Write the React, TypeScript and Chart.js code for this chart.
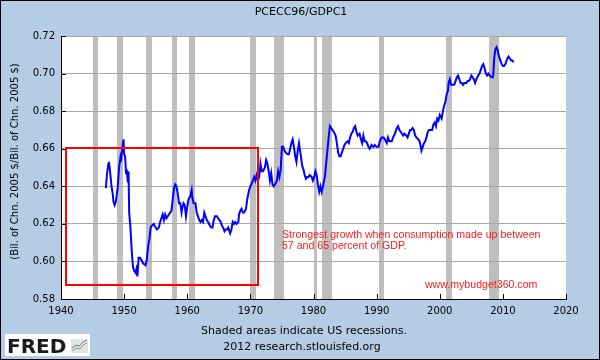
import React, { useEffect, useRef } from "react";
import { Chart, registerables } from "chart.js";

Chart.register(...registerables);

// ---- data ----
const obsYears = [
  1947.1, 1947.3, 1947.5, 1947.6, 1947.8, 1948.0, 1948.2, 1948.3, 1948.5, 1948.7,
  1949.0, 1949.2, 1949.4, 1949.5, 1949.7, 1949.9, 1950.0, 1950.15, 1950.3, 1950.4,
  1950.6, 1950.7, 1950.8, 1951.0, 1951.2, 1951.4, 1951.6, 1951.8, 1951.95, 1952.1,
  1952.3, 1952.5, 1952.7, 1953.0, 1953.4, 1953.6, 1953.8, 1954.0, 1954.2, 1954.4,
  1954.7, 1955.0, 1955.2, 1955.5, 1955.7, 1955.9, 1956.1, 1956.3, 1956.5, 1956.7,
  1956.9, 1957.1, 1957.3, 1957.5, 1957.7, 1957.9, 1958.1, 1958.3, 1958.5, 1958.7,
  1958.9, 1959.1, 1959.2, 1959.4, 1959.6, 1959.8, 1960.0, 1960.2, 1960.5, 1960.7,
  1960.8, 1961.0, 1961.3, 1961.5, 1961.7, 1961.9, 1962.1, 1962.3, 1962.5, 1962.7,
  1962.9, 1963.1, 1963.3, 1963.6, 1963.8, 1964.0, 1964.2, 1964.4, 1964.7, 1964.9,
  1965.1, 1965.3, 1965.5, 1965.7, 1965.9, 1966.1, 1966.3, 1966.5, 1966.8, 1967.0,
  1967.2, 1967.4, 1967.6, 1967.8, 1968.1, 1968.2, 1968.4, 1968.6, 1968.8, 1969.0,
  1969.3, 1969.5, 1969.8, 1970.0, 1970.4, 1970.6, 1970.8, 1971.0, 1971.2, 1971.4,
  1971.6, 1971.8, 1972.0, 1972.3, 1972.5, 1972.7, 1972.9, 1973.1, 1973.3, 1973.5,
  1973.7, 1973.9, 1974.2, 1974.4, 1974.6, 1974.8, 1975.0, 1975.2, 1975.4, 1975.6,
  1975.9, 1976.1, 1976.3, 1976.5, 1976.7, 1976.9, 1977.1, 1977.3, 1977.5, 1977.7,
  1978.0, 1978.2, 1978.4, 1978.6, 1978.8, 1979.0, 1979.2, 1979.4, 1979.7, 1979.9,
  1980.1, 1980.3, 1980.5, 1980.7, 1980.9, 1981.1, 1981.3, 1981.5, 1981.8, 1982.0,
  1982.2, 1982.4, 1982.6, 1982.8, 1983.0, 1983.2, 1983.5, 1983.7, 1983.9, 1984.1,
  1984.3, 1984.5, 1984.7, 1984.9, 1985.1, 1985.4, 1985.6, 1985.8, 1986.0, 1986.2,
  1986.4, 1986.6, 1986.8, 1987.0, 1987.3, 1987.5, 1987.7, 1987.9, 1988.1, 1988.3,
  1988.5, 1988.7, 1988.9, 1989.2, 1989.5, 1989.7, 1990.0, 1990.3, 1990.5, 1990.8,
  1991.1, 1991.3, 1991.6, 1991.8, 1992.0, 1992.2, 1992.4, 1992.6, 1992.9, 1993.2,
  1993.4, 1993.6, 1993.8, 1994.0, 1994.2, 1994.4, 1994.7, 1994.9, 1995.1, 1995.3,
  1995.5, 1995.7, 1995.9, 1996.1, 1996.3, 1996.6, 1996.8, 1997.0, 1997.1, 1997.3,
  1997.5, 1997.7, 1997.9, 1998.1, 1998.3, 1998.6, 1998.8, 1999.0, 1999.2, 1999.4,
  1999.6, 1999.8, 2000.0, 2000.3, 2000.5, 2000.7, 2000.9, 2001.1, 2001.3, 2001.4,
  2001.6, 2001.8, 2002.0, 2002.3, 2002.5, 2002.7, 2002.9, 2003.1, 2003.3, 2003.5,
  2003.7, 2003.9, 2004.2, 2004.4, 2004.6, 2004.8, 2005.0, 2005.2, 2005.4, 2005.6,
  2005.8, 2006.1, 2006.3, 2006.5, 2006.7, 2006.9, 2007.1, 2007.3, 2007.5, 2007.7,
  2007.9, 2008.2, 2008.4, 2008.5, 2008.6, 2008.8, 2009.0, 2009.1, 2009.2, 2009.4,
  2009.6, 2009.8, 2010.0, 2010.2, 2010.4, 2010.7, 2010.9, 2011.1, 2011.3, 2011.5,
  2011.7,
];

const obsValues = [
  0.639, 0.647, 0.652, 0.653, 0.647, 0.640, 0.636, 0.632, 0.630, 0.632,
  0.640, 0.650, 0.655, 0.653, 0.660, 0.665, 0.657, 0.656, 0.647, 0.649,
  0.642, 0.648, 0.626, 0.618, 0.606, 0.597, 0.595, 0.594, 0.596, 0.592,
  0.602, 0.602, 0.601, 0.599, 0.598, 0.601, 0.608, 0.612, 0.618, 0.619,
  0.620, 0.618, 0.617, 0.618, 0.621, 0.623, 0.625, 0.622, 0.625, 0.623,
  0.624, 0.625, 0.626, 0.627, 0.633, 0.639, 0.641, 0.640, 0.636, 0.631,
  0.631, 0.626, 0.628, 0.631, 0.630, 0.624, 0.629, 0.633, 0.635, 0.638,
  0.634, 0.631, 0.631, 0.626, 0.624, 0.622, 0.621, 0.622, 0.621, 0.626,
  0.624, 0.622, 0.621, 0.619, 0.618, 0.618, 0.622, 0.624, 0.624, 0.623,
  0.622, 0.621, 0.619, 0.618, 0.616, 0.617, 0.617, 0.618, 0.615, 0.617,
  0.621, 0.620, 0.621, 0.620, 0.621, 0.625, 0.627, 0.628, 0.626, 0.626,
  0.628, 0.633, 0.638, 0.640, 0.643, 0.645, 0.643, 0.646, 0.643, 0.645,
  0.652, 0.648, 0.648, 0.650, 0.654, 0.652, 0.648, 0.643, 0.647, 0.641,
  0.640, 0.641, 0.643, 0.648, 0.645, 0.649, 0.661, 0.661, 0.659, 0.658,
  0.657, 0.657, 0.660, 0.663, 0.665, 0.661, 0.656, 0.653, 0.659, 0.663,
  0.656, 0.651, 0.649, 0.646, 0.644, 0.645, 0.645, 0.646, 0.645, 0.643,
  0.645, 0.648, 0.646, 0.641, 0.637, 0.640, 0.637, 0.640, 0.645, 0.652,
  0.659, 0.666, 0.672, 0.671, 0.670, 0.669, 0.667, 0.663, 0.658, 0.656,
  0.656, 0.658, 0.660, 0.662, 0.663, 0.664, 0.663, 0.666, 0.668, 0.669,
  0.671, 0.672, 0.669, 0.667, 0.668, 0.665, 0.663, 0.667, 0.664, 0.664,
  0.663, 0.661, 0.660, 0.662, 0.661, 0.662, 0.661, 0.661, 0.664, 0.666,
  0.666, 0.665, 0.663, 0.666, 0.664, 0.664, 0.664, 0.666, 0.668, 0.671,
  0.672, 0.670, 0.669, 0.668, 0.667, 0.668, 0.667, 0.666, 0.668, 0.670,
  0.670, 0.671, 0.670, 0.667, 0.666, 0.665, 0.664, 0.661, 0.659, 0.661,
  0.663, 0.664, 0.666, 0.669, 0.670, 0.670, 0.670, 0.673, 0.674, 0.672,
  0.676, 0.675, 0.678, 0.676, 0.680, 0.683, 0.685, 0.689, 0.691, 0.695,
  0.697, 0.694, 0.694, 0.694, 0.696, 0.698, 0.699, 0.697, 0.695, 0.695,
  0.694, 0.695, 0.695, 0.696, 0.696, 0.697, 0.699, 0.698, 0.697, 0.695,
  0.697, 0.699, 0.700, 0.702, 0.704, 0.705, 0.703, 0.700, 0.699, 0.700,
  0.699, 0.698, 0.698, 0.700, 0.707, 0.713, 0.714, 0.713, 0.712, 0.709,
  0.707, 0.705, 0.704, 0.704, 0.705, 0.708, 0.709, 0.708, 0.707, 0.707,
  0.706,
];

const recessionStarts = [1945.0, 1948.9, 1953.5, 1957.6, 1960.3, 1969.95, 1973.75, 1980.0, 1981.4, 1990.45, 2001.0, 2007.85];
const recessionEnds = [1945.8, 1949.85, 1954.4, 1958.35, 1961.15, 1970.9, 1975.3, 1980.5, 1982.9, 1991.15, 2001.9, 2009.4];

const xMin = 1940;
const xMax = 2020;
const xStep = 10;
const yMin = 0.58;
const yMax = 0.72;
const yStep = 0.02;

const chartTitle = "PCECC96/GDPC1";
const yAxisTitle = "(Bil. of Chn. 2005 $/Bil. of Chn. 2005 $)";
const noteLines = ["Strongest growth when consumption made up between", "57 and 65 percent of GDP."];
const sourceNote = "www.mybudget360.com";
const footerLines = ["Shaded areas indicate US recessions.", "2012 research.stlouisfed.org"];
const logoText = "FRED";

// highlighted period box (years / values)
const boxYears = [1940.8, 1971.2];
const boxValues = [0.5875, 0.6604];
// annotation anchors (years / values)
const noteAnchorYear = 1975.0;
const noteAnchorValues = [0.6125, 0.6064];
const sourceAnchorYear = 1997.65;
const sourceAnchorValue = 0.5859;

const SANS = "'DejaVu Sans', Verdana, sans-serif";
const ARIAL = "'Liberation Sans', Arial, sans-serif";

const fredPlugin = {
  id: "fredDecor",
  beforeDraw(chart: any) {
    const { ctx, chartArea: a, scales } = chart;
    const x = scales.x;
    ctx.save();
    ctx.fillStyle = "#b4cde4";
    ctx.fillRect(0, 0, chart.width, chart.height);
    ctx.fillStyle = "#ffffff";
    ctx.fillRect(a.left, a.top, a.right - a.left, a.bottom - a.top);
    ctx.fillStyle = "#bebebe";
    recessionStarts.forEach((s, i) => {
      const x0 = Math.round(x.getPixelForValue(s));
      const x1 = Math.round(x.getPixelForValue(recessionEnds[i]));
      ctx.fillRect(x0, a.top, Math.max(1, x1 - x0), a.bottom - a.top);
    });
    ctx.restore();
  },
  afterDatasetsDraw(chart: any) {
    const { ctx, scales } = chart;
    const x = scales.x;
    const y = scales.y;
    ctx.save();
    // highlight box
    const bx0 = Math.round(x.getPixelForValue(boxYears[0]));
    const bx1 = Math.round(x.getPixelForValue(boxYears[1]));
    const by0 = Math.round(y.getPixelForValue(boxValues[1]));
    const by1 = Math.round(y.getPixelForValue(boxValues[0]));
    ctx.strokeStyle = "#ff0000";
    ctx.lineWidth = 2;
    ctx.strokeRect(bx0, by0, bx1 - bx0, by1 - by0);
    // notes
    ctx.fillStyle = "#ff1a1a";
    ctx.font = `10.6px ${ARIAL}`;
    ctx.textAlign = "left";
    ctx.textBaseline = "alphabetic";
    noteLines.forEach((t, i) => {
      ctx.fillText(t, x.getPixelForValue(noteAnchorYear), y.getPixelForValue(noteAnchorValues[i]));
    });
    ctx.fillText(sourceNote, x.getPixelForValue(sourceAnchorYear), y.getPixelForValue(sourceAnchorValue));
    ctx.restore();
  },
  afterDraw(chart: any) {
    const { ctx, chartArea: a, scales } = chart;
    const x = scales.x;
    const y = scales.y;
    ctx.save();
    // inward tick marks
    ctx.strokeStyle = "#000000";
    ctx.lineWidth = 1;
    ctx.beginPath();
    y.ticks.forEach((t: any) => {
      const py = Math.round(y.getPixelForValue(t.value)) + 0.5;
      ctx.moveTo(a.left, py);
      ctx.lineTo(a.left + 5, py);
    });
    x.ticks.forEach((t: any) => {
      const px = Math.round(x.getPixelForValue(t.value)) + 0.5;
      ctx.moveTo(px, a.bottom);
      ctx.lineTo(px, a.bottom - 5);
    });
    ctx.stroke();

    // title
    ctx.fillStyle = "#000000";
    ctx.font = `11px ${SANS}`;
    ctx.textAlign = "center";
    ctx.textBaseline = "middle";
    ctx.fillText(chartTitle, 301, 12);

    // y axis title
    ctx.save();
    ctx.translate(15, 161.5);
    ctx.rotate(-Math.PI / 2);
    ctx.font = `10px ${SANS}`;
    ctx.fillText(yAxisTitle, 0, 0);
    ctx.restore();

    // footer
    ctx.font = `11px ${SANS}`;
    ctx.fillText(footerLines[0], 304, 331);
    ctx.fillText(footerLines[1], 302, 347);

    // FRED logo
    ctx.fillStyle = "#ffffff";
    ctx.fillRect(5, 334, 85, 22);
    ctx.fillStyle = "#1a1a1a";
    ctx.font = `bold 20px ${SANS}`;
    ctx.textAlign = "left";
    ctx.textBaseline = "alphabetic";
    ctx.fillText(logoText, 7, 352.5);
    ctx.fillStyle = "#e4e4e4";
    ctx.fillRect(71, 339, 17, 14);
    ctx.lineWidth = 1;
    ctx.strokeStyle = "#7fb04a";
    ctx.beginPath();
    ctx.moveTo(72, 351); ctx.lineTo(76, 348); ctx.lineTo(80, 349); ctx.lineTo(83, 345); ctx.lineTo(87, 343);
    ctx.stroke();
    ctx.strokeStyle = "#5a7fc0";
    ctx.beginPath();
    ctx.moveTo(72, 348); ctx.lineTo(76, 345); ctx.lineTo(79, 346); ctx.lineTo(83, 342); ctx.lineTo(87, 340);
    ctx.stroke();

    // outer border
    ctx.strokeStyle = "#000000";
    ctx.lineWidth = 1;
    ctx.strokeRect(0.5, 0.5, chart.width - 1, chart.height - 1);
    ctx.restore();
  },
};

export default function App() {
  const canvasRef = useRef<HTMLCanvasElement | null>(null);

  useEffect(() => {
    const canvas = canvasRef.current;
    if (!canvas) return;
    const points = obsYears.map((yr, i) => ({ x: yr, y: obsValues[i] }));
    const chart = new Chart(canvas, {
      type: "line",
      data: {
        datasets: [
          {
            label: chartTitle,
            data: points,
            borderColor: "#0000ff",
            borderWidth: 2,
            pointRadius: 0,
            tension: 0,
            fill: false,
          },
        ],
      },
      options: {
        animation: false,
        responsive: false,
        maintainAspectRatio: false,
        devicePixelRatio: 1,
        layout: { padding: { top: 36, right: 34, left: 0, bottom: 0 } },
        plugins: {
          legend: { display: false },
          tooltip: { enabled: false },
          title: { display: false },
        },
        scales: {
          x: {
            type: "linear",
            min: xMin,
            max: xMax,
            afterFit: (s: any) => {
              s.height = 61;
            },
            grid: { display: false, drawTicks: false },
            border: { display: true, color: "#000000", width: 1 },
            ticks: {
              stepSize: xStep,
              autoSkip: false,
              maxRotation: 0,
              padding: 6,
              color: "#000000",
              font: { family: SANS, size: 10 },
              callback: (v: any) => String(v),
            },
          },
          y: {
            type: "linear",
            min: yMin,
            max: yMax,
            afterFit: (s: any) => {
              s.width = 61;
            },
            grid: { color: "#a9a9a9", lineWidth: 1, drawTicks: false },
            border: { display: true, color: "#000000", width: 1 },
            ticks: {
              stepSize: yStep,
              padding: 6,
              color: "#000000",
              font: { family: SANS, size: 10 },
              callback: (v: any) => Number(v).toFixed(2),
            },
          },
        },
      },
      plugins: [fredPlugin],
    } as any);
    return () => chart.destroy();
  }, []);

  return (
    <div style={{ position: "absolute", left: 0, top: 0, width: 600, height: 360 }}>
      <canvas ref={canvasRef} width={600} height={360} style={{ display: "block", width: 600, height: 360 }} />
    </div>
  );
}
